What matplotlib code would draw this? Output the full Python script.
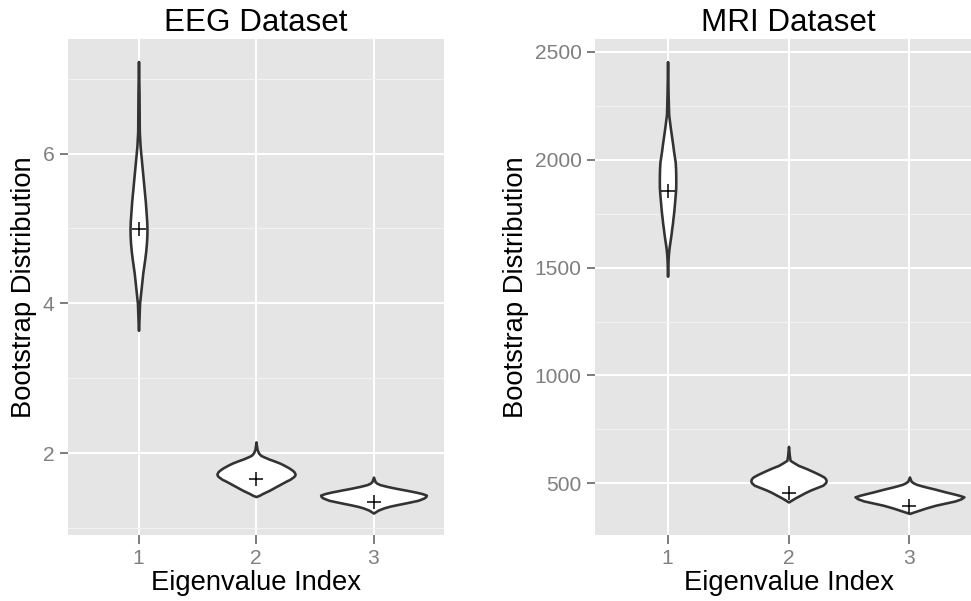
import matplotlib.pyplot as plt
import numpy as np

plt.rcParams['font.family'] = ['Liberation Sans', 'DejaVu Sans']

idx = [1, 2, 3]

# EEG violins: levels (value) and relative density (widest violin in panel = 1)
eeg_y1 = [7.23, 6.8, 6.3, 6.1, 5.95, 5.8, 5.65, 5.5, 5.35, 5.2, 5.1, 5.0, 4.9, 4.8, 4.7, 4.6, 4.5, 4.4, 4.3, 4.2, 4.1, 4.0, 3.8, 3.64]
eeg_d1 = [0.0, 0.01, 0.015, 0.03, 0.05, 0.07, 0.09, 0.11, 0.13, 0.145, 0.155, 0.16, 0.158, 0.15, 0.137, 0.12, 0.10, 0.08, 0.065, 0.05, 0.035, 0.02, 0.01, 0.0]
eeg_y2 = [2.15, 2.05, 2.0, 1.97, 1.95, 1.92, 1.9, 1.87, 1.85, 1.82, 1.8, 1.77, 1.75, 1.72, 1.70, 1.68, 1.65, 1.63, 1.6, 1.58, 1.55, 1.53, 1.5, 1.48, 1.46, 1.44, 1.42]
eeg_d2 = [0.0, 0.02, 0.05, 0.09, 0.15, 0.25, 0.33, 0.44, 0.50, 0.58, 0.63, 0.69, 0.72, 0.74, 0.73, 0.70, 0.64, 0.58, 0.50, 0.45, 0.37, 0.32, 0.24, 0.18, 0.12, 0.07, 0.0]
eeg_y3 = [1.68, 1.62, 1.6, 1.58, 1.555, 1.53, 1.505, 1.48, 1.46, 1.44, 1.42, 1.40, 1.37, 1.34, 1.31, 1.29, 1.27, 1.24, 1.20]
eeg_d3 = [0.0, 0.03, 0.06, 0.12, 0.26, 0.43, 0.62, 0.80, 0.92, 1.0, 0.99, 0.95, 0.84, 0.64, 0.43, 0.30, 0.20, 0.09, 0.0]

# MRI violins
mri_y1 = [2455, 2300, 2210, 2180, 2150, 2125, 2100, 2070, 2040, 2015, 1990, 1960, 1930, 1900, 1870, 1845, 1820, 1800, 1776, 1750, 1730, 1705, 1684, 1655, 1630, 1610, 1590, 1565, 1540, 1500, 1460]
mri_d1 = [0.0, 0.01, 0.02, 0.035, 0.05, 0.064, 0.078, 0.095, 0.11, 0.125, 0.14, 0.147, 0.15, 0.151, 0.15, 0.143, 0.135, 0.128, 0.12, 0.11, 0.10, 0.09, 0.078, 0.064, 0.05, 0.038, 0.027, 0.017, 0.01, 0.005, 0.0]
mri_y2 = [671, 630, 606, 595, 583, 568, 552, 540, 529, 521, 514, 507, 500, 491, 480, 468, 456, 445, 433, 421, 413]
mri_d2 = [0.0, 0.015, 0.03, 0.10, 0.18, 0.33, 0.47, 0.57, 0.65, 0.68, 0.69, 0.69, 0.67, 0.63, 0.52, 0.40, 0.30, 0.22, 0.13, 0.05, 0.0]
mri_y3 = [529, 510, 502, 495, 489, 483, 472, 460, 452, 445, 437, 428, 418, 408, 398, 385, 375, 365, 360]
mri_d3 = [0.0, 0.03, 0.07, 0.13, 0.21, 0.30, 0.48, 0.66, 0.79, 0.90, 1.0, 0.95, 0.84, 0.66, 0.48, 0.30, 0.18, 0.06, 0.0]

eeg_means = [4.99, 1.65, 1.35]
mri_means = [1857, 454, 394]

panels = [
    dict(title="EEG Dataset", ys=[eeg_y1, eeg_y2, eeg_y3], ds=[eeg_d1, eeg_d2, eeg_d3],
         means=eeg_means, ylim=(0.907, 7.53), major=[2, 4, 6], minor=[1, 3, 5, 7],
         rect=[68 / 971, 66 / 601, 376 / 971, 496 / 601]),
    dict(title="MRI Dataset", ys=[mri_y1, mri_y2, mri_y3], ds=[mri_d1, mri_d2, mri_d3],
         means=mri_means, ylim=(260, 2560), major=[500, 1000, 1500, 2000, 2500],
         minor=[750, 1250, 1750, 2250],
         rect=[595 / 971, 66 / 601, 387 / 971, 496 / 601]),
]

fig = plt.figure(figsize=(971 / 144, 601 / 144), dpi=144)

for p in panels:
    ax = fig.add_axes(p["rect"])
    ax.set_facecolor("#E5E5E5")
    for s in ax.spines.values():
        s.set_visible(False)
    ax.set_xlim(0.4, 3.6)
    ax.set_ylim(*p["ylim"])
    ax.set_xticks(idx)
    ax.set_xticklabels([str(i) for i in idx])
    ax.set_yticks(p["major"])
    ax.set_yticks(p["minor"], minor=True)
    ax.grid(True, which="major", color="white", linewidth=1.0)
    ax.grid(True, which="minor", axis="y", color="#F2F2F2", linewidth=0.5)
    ax.set_axisbelow(True)
    ax.tick_params(which="major", length=4.25, width=1.0, color="#7F7F7F",
                   labelcolor="#7F7F7F", labelsize=10.5, pad=2.5)
    ax.tick_params(which="minor", length=0)

    for i, y, d, m in zip(idx, p["ys"], p["ds"], p["means"]):
        y = np.array(y)
        hw = 0.45 * np.array(d)
        ax.fill_betweenx(y, i - hw, i + hw, facecolor="white", edgecolor="#333333",
                         linewidth=1.3, zorder=3)
        ax.plot([i], [m], marker="+", color="black", markersize=7, markeredgewidth=0.75,
                zorder=4)

    ax.set_title(p["title"], fontsize=15.7, pad=4)
    ax.set_xlabel("Eigenvalue Index", fontsize=13.7, labelpad=1)
    ax.set_ylabel("Bootstrap Distribution", fontsize=13.7, labelpad=3)

fig.savefig("out.png", dpi=144)
